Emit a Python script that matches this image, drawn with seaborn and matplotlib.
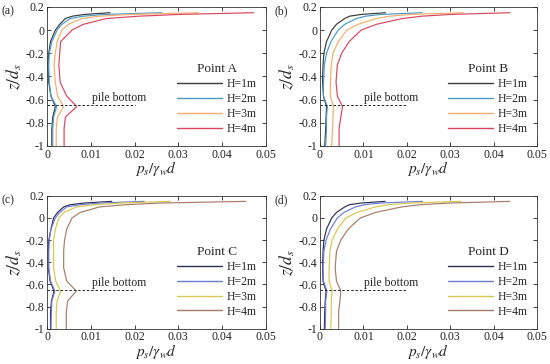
import numpy as np
import pandas as pd
import seaborn as sns
import matplotlib
matplotlib.use("Agg")
import matplotlib.pyplot as plt

# depth levels z/d_s shared by all curves
z_levels = [-1.0, -0.85, -0.75, -0.66, -0.57, -0.45, -0.3, -0.2, -0.1, 0.0, 0.05, 0.1, 0.12, 0.135, 0.15]
wave_heights = ["H=1m", "H=2m", "H=3m", "H=4m"]
points = ["Point A", "Point B", "Point C", "Point D"]
panel_tags = ["(a)", "(b)", "(c)", "(d)"]

# p_s / gamma_w d
a_h1 = [0.0011, 0.0011, 0.0013, 0.0019, 0.0009, 0.0004, 0.0002, 0.0004, 0.0008, 0.0019, 0.0029, 0.0042, 0.0058, 0.0085, 0.0144]
a_h2 = [0.0013, 0.0013, 0.0015, 0.0022, 0.0009, 0.0005, 0.0004, 0.0005, 0.0011, 0.0023, 0.0034, 0.0053, 0.0083, 0.0130, 0.0262]
a_h3 = [0.0021, 0.0021, 0.0024, 0.0038, 0.0024, 0.0019, 0.0016, 0.0019, 0.0023, 0.0034, 0.0049, 0.0080, 0.0120, 0.0190, 0.0345]
a_h4 = [0.0039, 0.0039, 0.0042, 0.0068, 0.0045, 0.0030, 0.0027, 0.0029, 0.0031, 0.0057, 0.0083, 0.0136, 0.0210, 0.0300, 0.0472]

b_h1 = [0.0011, 0.0013, 0.0014, 0.0015, 0.0008, 0.0006, 0.0007, 0.0009, 0.0015, 0.0027, 0.0038, 0.0057, 0.0068, 0.0095, 0.0151]
b_h2 = [0.0013, 0.0015, 0.0015, 0.0017, 0.0008, 0.0008, 0.0010, 0.0015, 0.0025, 0.0042, 0.0057, 0.0084, 0.0105, 0.0140, 0.0236]
b_h3 = [0.0027, 0.0029, 0.0030, 0.0031, 0.0024, 0.0024, 0.0026, 0.0030, 0.0042, 0.0062, 0.0088, 0.0130, 0.0160, 0.0210, 0.0330]
b_h4 = [0.0044, 0.0044, 0.0048, 0.0052, 0.0040, 0.0037, 0.0040, 0.0050, 0.0067, 0.0095, 0.0130, 0.0190, 0.0235, 0.0300, 0.0438]

c_h1 = [0.0008, 0.0008, 0.0010, 0.0016, 0.0007, 0.0003, 0.0003, 0.0004, 0.0009, 0.0015, 0.0024, 0.0038, 0.0053, 0.0085, 0.0148]
c_h2 = [0.0009, 0.0010, 0.0011, 0.0018, 0.0008, 0.0004, 0.0004, 0.0005, 0.0009, 0.0019, 0.0029, 0.0045, 0.0076, 0.0120, 0.0222]
c_h3 = [0.0021, 0.0021, 0.0023, 0.0031, 0.0020, 0.0015, 0.0015, 0.0015, 0.0019, 0.0027, 0.0038, 0.0068, 0.0110, 0.0170, 0.0282]
c_h4 = [0.0044, 0.0044, 0.0047, 0.0067, 0.0045, 0.0038, 0.0038, 0.0040, 0.0045, 0.0057, 0.0076, 0.0120, 0.0180, 0.0260, 0.0454]

d_h1 = [0.0010, 0.0011, 0.0012, 0.0014, 0.0007, 0.0006, 0.0007, 0.0009, 0.0015, 0.0027, 0.0038, 0.0057, 0.0068, 0.0095, 0.0150]
d_h2 = [0.0012, 0.0013, 0.0013, 0.0016, 0.0008, 0.0007, 0.0009, 0.0014, 0.0024, 0.0040, 0.0055, 0.0082, 0.0102, 0.0140, 0.0236]
d_h3 = [0.0025, 0.0026, 0.0026, 0.0028, 0.0021, 0.0021, 0.0023, 0.0028, 0.0040, 0.0060, 0.0085, 0.0128, 0.0158, 0.0210, 0.0325]
d_h4 = [0.0043, 0.0043, 0.0046, 0.0048, 0.0038, 0.0035, 0.0038, 0.0048, 0.0065, 0.0093, 0.0128, 0.0188, 0.0232, 0.0300, 0.0437]

pile_bottom_z = -0.65
pile_line_x = [0.0, 0.02]

x_ticks = [0, 0.01, 0.02, 0.03, 0.04, 0.05]
x_tick_labels = ["0", "0.01", "0.02", "0.03", "0.04", "0.05"]
y_ticks = [-1, -0.8, -0.6, -0.4, -0.2, 0, 0.2]
y_tick_labels = ["-1", "-0.8", "-0.6", "-0.4", "-0.2", "0", "0.2"]

colors_ab = ["#3a3a3a", "#4a9ac6", "#f6ad6c", "#d8465e"]
colors_cd = ["#2e2e52", "#6c7cd4", "#d6c84e", "#a67c68"]

panel_data = [
    [a_h1, a_h2, a_h3, a_h4],
    [b_h1, b_h2, b_h3, b_h4],
    [c_h1, c_h2, c_h3, c_h4],
    [d_h1, d_h2, d_h3, d_h4],
]

sns.set_style("ticks")
plt.rcParams["font.family"] = ["Liberation Serif", "DejaVu Serif"]
plt.rcParams["mathtext.fontset"] = "stix"
plt.rcParams["axes.unicode_minus"] = False

fig = plt.figure(figsize=(5.5, 3.64), dpi=100)
positions = [
    [0.0855, 0.599, 0.398, 0.382],
    [0.5818, 0.599, 0.3945, 0.382],
    [0.0855, 0.097, 0.398, 0.365],
    [0.5818, 0.097, 0.3945, 0.365],
]

for i in range(4):
    ax = fig.add_axes(positions[i])
    rows = []
    for h, vals in zip(wave_heights, panel_data[i]):
        for z, p in zip(z_levels, vals):
            rows.append({"p": p, "z": z, "H": h})
    df = pd.DataFrame(rows)
    pal = colors_ab if i < 2 else colors_cd
    sns.lineplot(data=df, x="p", y="z", hue="H", palette=pal, sort=False,
                 estimator=None, linewidth=0.85, ax=ax)

    ax.plot(pile_line_x, [pile_bottom_z, pile_bottom_z], color="#222222",
            linestyle=(0, (2.5, 2)), linewidth=0.7)
    ax.text(0.0102, -0.585, "pile bottom", fontsize=8.5, ha="left", va="center")

    ax.set_xlim(0, 0.05)
    ax.set_ylim(-1, 0.2)
    ax.set_xticks(x_ticks, x_tick_labels)
    ax.set_yticks(y_ticks, y_tick_labels)
    ax.tick_params(direction="in", length=3, width=0.6, labelsize=8.5,
                   top=True, right=True, pad=2, colors="#222222")
    for s in ax.spines.values():
        s.set_linewidth(0.6)
        s.set_color("#333333")
    ax.set_xlabel(r"$p_s/\gamma_w d$", fontsize=11, labelpad=-1)
    ax.set_ylabel(r"$z/d_s$", fontsize=12.5, labelpad=1)

    leg = ax.legend(title=points[i], loc="lower right", bbox_to_anchor=(0.99, 0.03),
                    frameon=False, fontsize=8.5, title_fontsize=9.5,
                    handlelength=3.8, handletextpad=0.4, labelspacing=0.25,
                    borderaxespad=0.2)
    for line in leg.get_lines():
        line.set_linewidth(1.0)

    fig.text(positions[i][0] - 0.083, positions[i][1] + positions[i][3] - 0.012,
             panel_tags[i], fontsize=8.5, ha="left", va="center")

fig.savefig("out.png", dpi=100)
